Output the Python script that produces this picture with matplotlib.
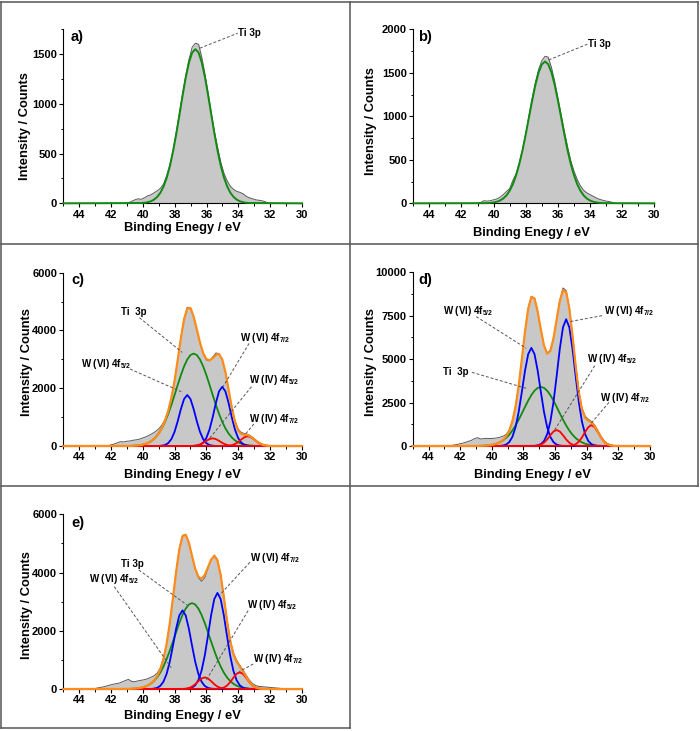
import matplotlib
matplotlib.use("Agg")
import matplotlib.pyplot as plt
from matplotlib.lines import Line2D
from matplotlib.ticker import MultipleLocator

plt.rcParams['font.family'] = ['Liberation Sans', 'DejaVu Sans']
plt.rcParams['font.weight'] = 'bold'
plt.rcParams['mathtext.fontset'] = 'custom'
plt.rcParams['mathtext.rm'] = 'Liberation Sans:bold'
plt.rcParams['mathtext.it'] = 'Liberation Sans:bold'
plt.rcParams['mathtext.bf'] = 'Liberation Sans:bold'
plt.rcParams['mathtext.default'] = 'rm'

# ---------------- data ----------------
XTICKS = [44, 42, 40, 38, 36, 34, 32, 30]

# panel a
A_E_DATA = [41.1, 40.9, 40.7, 40.5, 40.3, 40.1, 39.9, 39.7, 39.5, 39.3, 39.1, 38.9, 38.7, 38.5, 38.3, 38.1,
            37.9, 37.7, 37.5, 37.3, 37.1, 36.9, 36.7, 36.5, 36.3, 36.1, 35.9, 35.7, 35.5, 35.3, 35.1, 34.9,
            34.7, 34.5, 34.3, 34.1, 33.9, 33.7, 33.5, 33.3, 33.1, 32.9, 32.7, 32.5, 32.3, 32.1]
A_DATA = [0, 5, 20, 35, 45, 40, 55, 75, 85, 105, 125, 150, 195, 280, 390, 540,
          720, 910, 1110, 1290, 1450, 1570, 1610, 1600, 1470, 1300, 1110, 910, 720, 560, 410, 300,
          225, 170, 140, 120, 110, 95, 70, 55, 45, 35, 30, 25, 15, 0]
A_E_TI = [45.0, 40.1, 39.9, 39.7, 39.5, 39.3, 39.1, 38.9, 38.7, 38.5, 38.3, 38.1, 37.9, 37.7, 37.5, 37.3,
          37.1, 36.9, 36.7, 36.5, 36.3, 36.1, 35.9, 35.7, 35.5, 35.3, 35.1, 34.9, 34.7, 34.5, 34.3, 34.1,
          33.9, 33.7, 33.5, 33.3, 30.0]
A_TI = [0, 3, 5, 11, 20, 37, 64, 106, 169, 257, 375, 524, 698, 891, 1087, 1269,
        1418, 1516, 1550, 1516, 1418, 1269, 1087, 891, 698, 524, 375, 257, 169, 106, 64, 37,
        20, 11, 5, 3, 0]

# panel b
B_E_DATA = [41.0, 40.8, 40.6, 40.4, 40.2, 40.0, 39.8, 39.6, 39.4, 39.2, 39.0, 38.8, 38.6, 38.4, 38.2, 38.0,
            37.8, 37.6, 37.4, 37.2, 37.0, 36.8, 36.6, 36.4, 36.2, 36.0, 35.8, 35.6, 35.4, 35.2, 35.0, 34.8,
            34.6, 34.4, 34.2, 34.0, 33.8, 33.6, 33.4, 33.2, 33.0, 32.8, 32.6, 32.4]
B_DATA = [0, 10, 30, 25, 30, 40, 50, 70, 100, 135, 170, 265, 340, 470, 620, 800,
          1010, 1210, 1390, 1540, 1640, 1690, 1680, 1560, 1400, 1210, 1020, 830, 650, 490, 370, 275,
          200, 150, 120, 100, 80, 60, 45, 35, 25, 20, 10, 0]
B_E_TI = [45.0, 40.4, 40.2, 40.0, 39.8, 39.6, 39.4, 39.2, 39.0, 38.8, 38.6, 38.4, 38.2, 38.0, 37.8, 37.6,
          37.4, 37.2, 37.0, 36.8, 36.6, 36.4, 36.2, 36.0, 35.8, 35.6, 35.4, 35.2, 35.0, 34.8, 34.6, 34.4,
          34.2, 34.0, 33.8, 33.6, 33.4, 33.2, 30.0]
B_TI = [0, 2, 5, 10, 18, 32, 55, 91, 145, 220, 323, 453, 611, 794, 989, 1183,
        1361, 1504, 1597, 1630, 1597, 1504, 1361, 1183, 989, 794, 611, 453, 323, 220, 145, 91,
        55, 32, 18, 10, 5, 2, 0]

# panel c
C_E_DATA = [42.4, 42.2, 42.0, 41.8, 41.6, 41.4, 41.2, 41.0, 40.8, 40.6, 40.4, 40.2, 40.0, 39.8, 39.6, 39.4,
            39.2, 39.0, 38.8, 38.6, 38.4, 38.2, 38.0, 37.8, 37.6, 37.4, 37.2, 37.0, 36.8, 36.6, 36.4, 36.2,
            36.0, 35.8, 35.6, 35.4, 35.2, 35.0, 34.8, 34.6, 34.4, 34.2, 34.0, 33.8, 33.6, 33.4, 33.2, 33.0,
            32.8, 32.6, 32.4, 32.2, 32.0]
C_DATA = [0, 0, 40, 70, 110, 150, 140, 165, 175, 200, 215, 240, 280, 320, 370, 430,
          500, 590, 720, 920, 1230, 1680, 2270, 2990, 3760, 4420, 4800, 4790, 4470, 4020, 3560, 3200,
          2980, 2950, 3080, 3220, 3200, 2990, 2560, 1960, 1360, 880, 590, 470, 430, 400, 350, 260,
          170, 100, 50, 20, 0]
C_E_ENV = [45.0, 41.0, 40.8, 40.6, 40.4, 40.2, 40.0, 39.8, 39.6, 39.4, 39.2, 39.0, 38.8, 38.6, 38.4, 38.2,
           38.0, 37.8, 37.6, 37.4, 37.2, 37.0, 36.8, 36.6, 36.4, 36.2, 36.0, 35.8, 35.6, 35.4, 35.2, 35.0,
           34.8, 34.6, 34.4, 34.2, 34.0, 33.8, 33.6, 33.4, 33.2, 33.0, 32.8, 32.6, 32.4, 32.2, 32.0, 31.8, 30.0]
C_ENV = [0, 2, 4, 8, 15, 27, 46, 78, 125, 196, 296, 435, 622, 873, 1209, 1662,
         2257, 2978, 3739, 4387, 4760, 4778, 4484, 4043, 3582, 3220, 3013, 2963, 3040, 3155, 3181, 2998,
         2561, 1952, 1330, 837, 540, 419, 391, 374, 322, 234, 142, 71, 29, 10, 3, 0, 0]
C_E_TI = [45.0, 40.8, 40.6, 40.4, 40.2, 40.0, 39.8, 39.6, 39.4, 39.2, 39.0, 38.8, 38.6, 38.4, 38.2, 38.0,
          37.8, 37.6, 37.4, 37.2, 37.0, 36.8, 36.6, 36.4, 36.2, 36.0, 35.8, 35.6, 35.4, 35.2, 35.0, 34.8,
          34.6, 34.4, 34.2, 34.0, 33.8, 33.6, 33.4, 33.2, 33.0, 32.8, 30.0]
C_TI = [0, 4, 8, 15, 27, 46, 78, 125, 196, 296, 432, 611, 838, 1110, 1424, 1766,
        2118, 2458, 2758, 2995, 3149, 3200, 3149, 2995, 2758, 2458, 2118, 1766, 1424, 1110, 838, 611,
        432, 296, 196, 125, 78, 46, 27, 15, 8, 4, 0]
C_E_W6A = [45.0, 39.0, 38.8, 38.6, 38.4, 38.2, 38.0, 37.8, 37.6, 37.4, 37.2, 37.0, 36.8, 36.6, 36.4, 36.2,
           36.0, 35.8, 35.6, 35.4, 30.0]
C_W6A = [0, 3, 11, 35, 99, 238, 491, 860, 1281, 1629, 1765, 1629, 1281, 860, 491, 238, 99, 35, 11, 3, 0]
C_E_W6B = [45.0, 36.8, 36.6, 36.4, 36.2, 36.0, 35.8, 35.6, 35.4, 35.2, 35.0, 34.8, 34.6, 34.4, 34.2, 34.0,
           33.8, 33.6, 33.4, 33.2, 30.0]
C_W6B = [0, 3, 12, 41, 115, 277, 570, 998, 1488, 1892, 2050, 1892, 1488, 998, 570, 277, 115, 41, 12, 3, 0]
C_E_W4A = [45.0, 37.0, 36.8, 36.6, 36.4, 36.2, 36.0, 35.8, 35.6, 35.4, 35.2, 35.0, 34.8, 34.6, 34.4, 34.2, 30.0]
C_W4A = [0, 2, 8, 22, 55, 109, 179, 240, 265, 240, 179, 109, 55, 22, 8, 2, 0]
C_E_W4B = [45.0, 34.8, 34.6, 34.4, 34.2, 34.0, 33.8, 33.6, 33.4, 33.2, 33.0, 32.8, 32.6, 32.4, 32.2, 32.0, 30.0]
C_W4B = [0, 3, 10, 28, 69, 138, 226, 304, 335, 304, 226, 138, 69, 28, 10, 3, 0]

# panel d
D_E_DATA = [42.9, 42.7, 42.5, 42.3, 42.1, 41.9, 41.7, 41.5, 41.3, 41.1, 40.9, 40.7, 40.5, 40.3, 40.1, 39.9,
            39.7, 39.5, 39.3, 39.1, 38.9, 38.7, 38.5, 38.3, 38.1, 37.9, 37.7, 37.5, 37.3, 37.1, 36.9, 36.7,
            36.5, 36.3, 36.1, 35.9, 35.7, 35.5, 35.3, 35.1, 34.9, 34.7, 34.5, 34.3, 34.1, 33.9, 33.7, 33.5,
            33.3, 33.1, 32.9, 32.7, 32.5, 32.3, 32.1]
D_DATA = [0, 10, 40, 70, 110, 150, 200, 260, 320, 420, 480, 400, 430, 440, 430, 440,
          460, 500, 560, 660, 920, 1440, 2280, 3490, 5010, 6600, 7920, 8620, 8520, 7760, 6720, 5800,
          5360, 5490, 6220, 7300, 8380, 9100, 8950, 7960, 6420, 4700, 3200, 2200, 1720, 1540, 1420, 1220,
          900, 560, 300, 150, 70, 30, 0]
D_E_ENV = [45.0, 41.1, 40.9, 40.7, 40.5, 40.3, 40.1, 39.9, 39.7, 39.5, 39.3, 39.1, 38.9, 38.7, 38.5, 38.3,
           38.1, 37.9, 37.7, 37.5, 37.3, 37.1, 36.9, 36.7, 36.5, 36.3, 36.1, 35.9, 35.7, 35.5, 35.3, 35.1,
           34.9, 34.7, 34.5, 34.3, 34.1, 33.9, 33.7, 33.5, 33.3, 33.1, 32.9, 32.7, 32.5, 32.3, 32.1, 31.9, 30.0]
D_ENV = [0, 2, 4, 9, 16, 29, 49, 83, 135, 215, 342, 541, 870, 1414, 2259, 3474,
         4996, 6590, 7899, 8581, 8486, 7745, 6703, 5783, 5315, 5468, 6199, 7283, 8344, 8973, 8860, 7923,
         6367, 4617, 3102, 2095, 1618, 1456, 1355, 1150, 834, 502, 251, 104, 34, 9, 2, 0, 0]
D_E_TI = [45.0, 40.9, 40.7, 40.5, 40.3, 40.1, 39.9, 39.7, 39.5, 39.3, 39.1, 38.9, 38.7, 38.5, 38.3, 38.1,
          37.9, 37.7, 37.5, 37.3, 37.1, 36.9, 36.7, 36.5, 36.3, 36.1, 35.9, 35.7, 35.5, 35.3, 35.1, 34.9,
          34.7, 34.5, 34.3, 34.1, 33.9, 33.7, 33.5, 33.3, 33.1, 32.9, 30.0]
D_TI = [0, 4, 9, 16, 29, 49, 83, 133, 208, 315, 459, 649, 891, 1180, 1513, 1877,
        2251, 2611, 2931, 3182, 3346, 3400, 3346, 3182, 2931, 2611, 2251, 1877, 1513, 1180, 891, 649,
        459, 315, 208, 133, 83, 49, 29, 16, 9, 4, 0]
D_E_W6A = [45.0, 39.5, 39.3, 39.1, 38.9, 38.7, 38.5, 38.3, 38.1, 37.9, 37.7, 37.5, 37.3, 37.1, 36.9, 36.7,
           36.5, 36.3, 36.1, 35.9, 35.7, 35.5, 30.0]
D_W6A = [0, 7, 27, 82, 221, 523, 1079, 1961, 3119, 4339, 5288, 5650, 5288, 4339, 3119, 1961,
         1079, 523, 221, 82, 27, 7, 0]
D_E_W6B = [45.0, 37.3, 37.1, 36.9, 36.7, 36.5, 36.3, 36.1, 35.9, 35.7, 35.5, 35.3, 35.1, 34.9, 34.7, 34.5,
           34.3, 34.1, 33.9, 33.7, 33.5, 33.3, 30.0]
D_W6B = [0, 9, 34, 106, 286, 676, 1394, 2533, 4030, 5606, 6833, 7300, 6833, 5606, 4030, 2533,
         1394, 676, 286, 106, 34, 9, 0]
D_E_W4A = [45.0, 37.3, 37.1, 36.9, 36.7, 36.5, 36.3, 36.1, 35.9, 35.7, 35.5, 35.3, 35.1, 34.9, 34.7, 34.5, 30.0]
D_W4A = [0, 7, 26, 78, 190, 378, 620, 834, 920, 834, 620, 378, 190, 78, 26, 7, 0]
D_E_W4B = [45.0, 35.1, 34.9, 34.7, 34.5, 34.3, 34.1, 33.9, 33.7, 33.5, 33.3, 33.1, 32.9, 32.7, 32.5, 32.3, 30.0]
D_W4B = [0, 9, 34, 102, 247, 493, 809, 1087, 1200, 1087, 809, 493, 247, 102, 34, 9, 0]

# panel e
E_E_DATA = [43.1, 42.9, 42.7, 42.5, 42.3, 42.1, 41.9, 41.7, 41.5, 41.3, 41.1, 40.9, 40.7, 40.5, 40.3, 40.1,
            39.9, 39.7, 39.5, 39.3, 39.1, 38.9, 38.7, 38.5, 38.3, 38.1, 37.9, 37.7, 37.5, 37.3, 37.1, 36.9,
            36.7, 36.5, 36.3, 36.1, 35.9, 35.7, 35.5, 35.3, 35.1, 34.9, 34.7, 34.5, 34.3, 34.1, 33.9, 33.7,
            33.5, 33.3, 33.1, 32.9, 32.7, 32.5, 32.3, 32.1, 31.9, 31.7, 31.5, 31.3, 31.1]
E_DATA = [0, 30, 50, 70, 100, 130, 160, 180, 200, 240, 290, 330, 260, 250, 280, 300,
          320, 350, 400, 450, 540, 720, 1060, 1560, 2270, 3140, 4060, 4830, 5280, 5300, 5010, 4560,
          4110, 3820, 3700, 3820, 4120, 4420, 4600, 4450, 3950, 3200, 2390, 1700, 1250, 990, 820, 660,
          480, 310, 190, 120, 90, 80, 70, 60, 50, 40, 30, 20, 0]
E_E_ENV = [45.0, 41.1, 40.9, 40.7, 40.5, 40.3, 40.1, 39.9, 39.7, 39.5, 39.3, 39.1, 38.9, 38.7, 38.5, 38.3,
           38.1, 37.9, 37.7, 37.5, 37.3, 37.1, 36.9, 36.7, 36.5, 36.3, 36.1, 35.9, 35.7, 35.5, 35.3, 35.1,
           34.9, 34.7, 34.5, 34.3, 34.1, 33.9, 33.7, 33.5, 33.3, 33.1, 32.9, 32.7, 32.5, 32.3, 32.1, 31.9, 30.0]
E_ENV = [0, 2, 4, 8, 14, 25, 43, 72, 117, 185, 286, 437, 669, 1023, 1540, 2250,
         3118, 4027, 4794, 5247, 5303, 5027, 4570, 4133, 3853, 3785, 3917, 4176, 4445, 4571, 4411, 3912,
         3157, 2341, 1654, 1199, 943, 776, 612, 429, 254, 126, 53, 18, 5, 1, 0, 0, 0]
E_E_TI = [45.0, 40.9, 40.7, 40.5, 40.3, 40.1, 39.9, 39.7, 39.5, 39.3, 39.1, 38.9, 38.7, 38.5, 38.3, 38.1,
          37.9, 37.7, 37.5, 37.3, 37.1, 36.9, 36.7, 36.5, 36.3, 36.1, 35.9, 35.7, 35.5, 35.3, 35.1, 34.9,
          34.7, 34.5, 34.3, 34.1, 33.9, 33.7, 33.5, 33.3, 33.1, 32.9, 30.0]
E_TI = [0, 4, 8, 14, 25, 43, 72, 116, 181, 273, 398, 563, 773, 1024, 1313, 1628,
        1953, 2266, 2543, 2761, 2903, 2950, 2903, 2761, 2543, 2266, 1953, 1628, 1313, 1024, 773, 563,
        398, 273, 181, 116, 72, 43, 25, 14, 8, 4, 0]
E_E_W6A = [45.0, 39.5, 39.3, 39.1, 38.9, 38.7, 38.5, 38.3, 38.1, 37.9, 37.7, 37.5, 37.3, 37.1, 36.9, 36.7,
           36.5, 36.3, 36.1, 35.9, 35.7, 35.5, 30.0]
E_W6A = [0, 4, 13, 39, 106, 250, 516, 937, 1490, 2074, 2527, 2700, 2527, 2074, 1490, 937,
         516, 250, 106, 39, 13, 4, 0]
E_E_W6B = [45.0, 37.3, 37.1, 36.9, 36.7, 36.5, 36.3, 36.1, 35.9, 35.7, 35.5, 35.3, 35.1, 34.9, 34.7, 34.5,
           34.3, 34.1, 33.9, 33.7, 33.5, 33.3, 30.0]
E_W6B = [0, 4, 16, 48, 129, 306, 630, 1145, 1822, 2534, 3089, 3300, 3089, 2534, 1822, 1145,
         630, 306, 129, 48, 16, 4, 0]
E_E_W4A = [45.0, 37.5, 37.3, 37.1, 36.9, 36.7, 36.5, 36.3, 36.1, 35.9, 35.7, 35.5, 35.3, 35.1, 34.9, 34.7, 30.0]
E_W4A = [0, 3, 11, 34, 82, 164, 270, 362, 400, 362, 270, 164, 82, 34, 11, 3, 0]
E_E_W4B = [45.0, 35.3, 35.1, 34.9, 34.7, 34.5, 34.3, 34.1, 33.9, 33.7, 33.5, 33.3, 33.1, 32.9, 32.7, 32.5, 30.0]
E_W4B = [0, 5, 16, 49, 118, 236, 388, 521, 575, 521, 388, 236, 118, 49, 16, 5, 0]

LBL_TI = 'Ti 3p'
LBL_TI2 = 'Ti  3p'
LBL_W6A = r'W (VI) 4f$_{5/2}$'
LBL_W6B = r'W (VI) 4f$_{7/2}$'
LBL_W4A = r'W (IV) 4f$_{5/2}$'
LBL_W4B = r'W (IV) 4f$_{7/2}$'

# ---------------- styles ----------------
FILL = '#c8c8c8'
EDGE = '#5a5a5a'
GREEN = '#118a11'
BLUE = '#0000ff'
RED = '#ff0000'
ORANGE = '#ff8c1a'
BORDER = '#555555'

W, H = 700, 731
fig = plt.figure(figsize=(W / 100, H / 100), dpi=100)


def px_axes(l, r, t, b):
    return fig.add_axes([l / W, 1 - b / H, (r - l) / W, (b - t) / H])


def fline(x0, y0, x1, y1):
    fig.add_artist(Line2D([x0 / W, x1 / W], [1 - y0 / H, 1 - y1 / H], color=BORDER, lw=1.1))


# panel frames
fline(1, 2, 698, 2)
fline(1, 244, 698, 244)
fline(1, 486, 698, 486)
fline(1, 728, 350, 728)
fline(1, 2, 1, 728)
fline(350, 2, 350, 728)
fline(698, 2, 698, 486)


def setup(ax, ymax, ymaj, ymin, tag, tagpos, ylab_pos, xlab_pos):
    ax.set_xlim(45, 30)
    ax.set_ylim(0, ymax)
    ax.set_xticks(XTICKS)
    ax.xaxis.set_minor_locator(MultipleLocator(1))
    ax.yaxis.set_major_locator(MultipleLocator(ymaj))
    ax.yaxis.set_minor_locator(MultipleLocator(ymin))
    for s in ['top', 'right']:
        ax.spines[s].set_visible(False)
    for s in ['left', 'bottom']:
        ax.spines[s].set_linewidth(0.8)
    ax.tick_params(which='major', direction='out', length=3, width=0.8, labelsize=8, pad=1.5)
    ax.tick_params(which='minor', direction='out', length=1.8, width=0.7)
    for lab in ax.get_xticklabels() + ax.get_yticklabels():
        lab.set_fontweight('bold')
    ax.set_xlabel('Binding Enegy / eV', fontsize=9.3, fontweight='bold', va='center')
    ax.set_ylabel('Intensity / Counts', fontsize=9.3, fontweight='bold', va='center')
    ax.xaxis.set_label_coords(xlab_pos[0], xlab_pos[1])
    ax.yaxis.set_label_coords(ylab_pos[0], ylab_pos[1])
    ax.text(tagpos[0], tagpos[1], tag, transform=ax.transAxes, fontsize=10.5,
            fontweight='bold', ha='left', va='center')
    ax.patch.set_alpha(0)


def spectrum(ax, e, d):
    ax.fill_between(e, d, 0, color=FILL, lw=0, zorder=1)
    ax.plot(e, d, color=EDGE, lw=0.7, zorder=2)


def curve(ax, e, v, color, lw=1.3, z=3):
    ax.plot(e, v, color=color, lw=lw, zorder=z, clip_on=False, solid_joinstyle='round')


def note(ax, text, tx, ty, p0, p1):
    ax.text(tx, ty, text, fontsize=7, fontweight='bold', ha='left', va='center', zorder=6)
    ax.plot([p0[0], p1[0]], [p0[1], p1[1]], color='#555555', lw=0.7, ls=(0, (3, 2)), zorder=5)


# ---- a ----
ax = px_axes(63.3, 302.0, 29.3, 203.3)
spectrum(ax, A_E_DATA, A_DATA)
curve(ax, A_E_TI, A_TI, GREEN, lw=1.4)
setup(ax, 1750, 500, 250, 'a)', (0.032, 0.957), (-0.160, 0.445), (0.499, -0.140))
note(ax, LBL_TI, 34.0, 1711, (36.42, 1560), (34.04, 1711))

# ---- b ----
ax = px_axes(413.3, 654.3, 29.3, 203.3)
spectrum(ax, B_E_DATA, B_DATA)
curve(ax, B_E_TI, B_TI, GREEN, lw=1.4)
setup(ax, 2000, 500, 250, 'b)', (0.021, 0.957), (-0.177, 0.474), (0.491, -0.172))
note(ax, LBL_TI, 34.1, 1828, (36.57, 1648), (34.17, 1828))

# ---- c ----
ax = px_axes(63.3, 301.7, 272.7, 446.0)
spectrum(ax, C_E_DATA, C_DATA)
curve(ax, C_E_TI, C_TI, GREEN)
curve(ax, C_E_W6A, C_W6A, BLUE)
curve(ax, C_E_W6B, C_W6B, BLUE)
curve(ax, C_E_W4A, C_W4A, RED)
curve(ax, C_E_W4B, C_W4B, RED)
curve(ax, C_E_ENV, C_ENV, ORANGE, lw=1.6, z=4)
setup(ax, 6000, 2000, 1000, 'c)', (0.032, 0.958), (-0.153, 0.482), (0.5, -0.167))
note(ax, LBL_TI2, 41.37, 4650, (40.21, 4442), (37.52, 3242))
note(ax, LBL_W6A, 43.89, 2838, (40.8, 2665), (37.58, 1881))
note(ax, LBL_W6B, 33.89, 3750, (33.31, 3554), (34.95, 2054))
note(ax, LBL_W4A, 33.31, 2285, (33.16, 2054), (35.83, 242))
note(ax, LBL_W4B, 33.31, 935, (33.01, 762), (33.58, 381))

# ---- d ----
ax = px_axes(412.7, 650.0, 272.3, 446.0)
spectrum(ax, D_E_DATA, D_DATA)
curve(ax, D_E_TI, D_TI, GREEN)
curve(ax, D_E_W6A, D_W6A, BLUE)
curve(ax, D_E_W6B, D_W6B, BLUE)
curve(ax, D_E_W4A, D_W4A, RED)
curve(ax, D_E_W4B, D_W4B, RED)
curve(ax, D_E_ENV, D_ENV, ORANGE, lw=1.6, z=4)
setup(ax, 10000, 2500, 1250, 'd)', (0.024, 0.958), (-0.177, 0.482), (0.503, -0.167))
note(ax, LBL_W6A, 43.09, 7774, (40.98, 7447), (37.82, 5624))
note(ax, LBL_W6B, 32.92, 7774, (33.03, 7505), (35.08, 7159))
note(ax, LBL_TI2, 43.09, 4280, (41.26, 4242), (37.82, 3321))
note(ax, LBL_W4A, 33.98, 4990, (33.49, 4626), (36.03, 921))
note(ax, LBL_W4B, 33.14, 2783, (32.59, 2514), (33.81, 1209))

# ---- e ----
ax = px_axes(63.3, 301.7, 514.3, 689.0)
spectrum(ax, E_E_DATA, E_DATA)
curve(ax, E_E_TI, E_TI, GREEN)
curve(ax, E_E_W6A, E_W6A, BLUE)
curve(ax, E_E_W6B, E_W6B, BLUE)
curve(ax, E_E_W4A, E_W4A, RED)
curve(ax, E_E_W4B, E_W4B, RED)
curve(ax, E_E_ENV, E_ENV, ORANGE, lw=1.6, z=4)
setup(ax, 6000, 2000, 1000, 'e)', (0.032, 0.948), (-0.153, 0.481), (0.5, -0.155))
note(ax, LBL_TI, 41.37, 4283, (40.25, 4088), (37.22, 2886))
note(ax, LBL_W6A, 43.37, 3767, (41.79, 3515), (38.21, 733))
note(ax, LBL_W6B, 33.26, 4512, (33.26, 4351), (35.16, 3229))
note(ax, LBL_W4A, 33.47, 2886, (33.37, 2691), (36.0, 309))
note(ax, LBL_W4B, 33.05, 1031, (33.05, 859), (33.94, 595))

fig.savefig('out.png', dpi=100)
